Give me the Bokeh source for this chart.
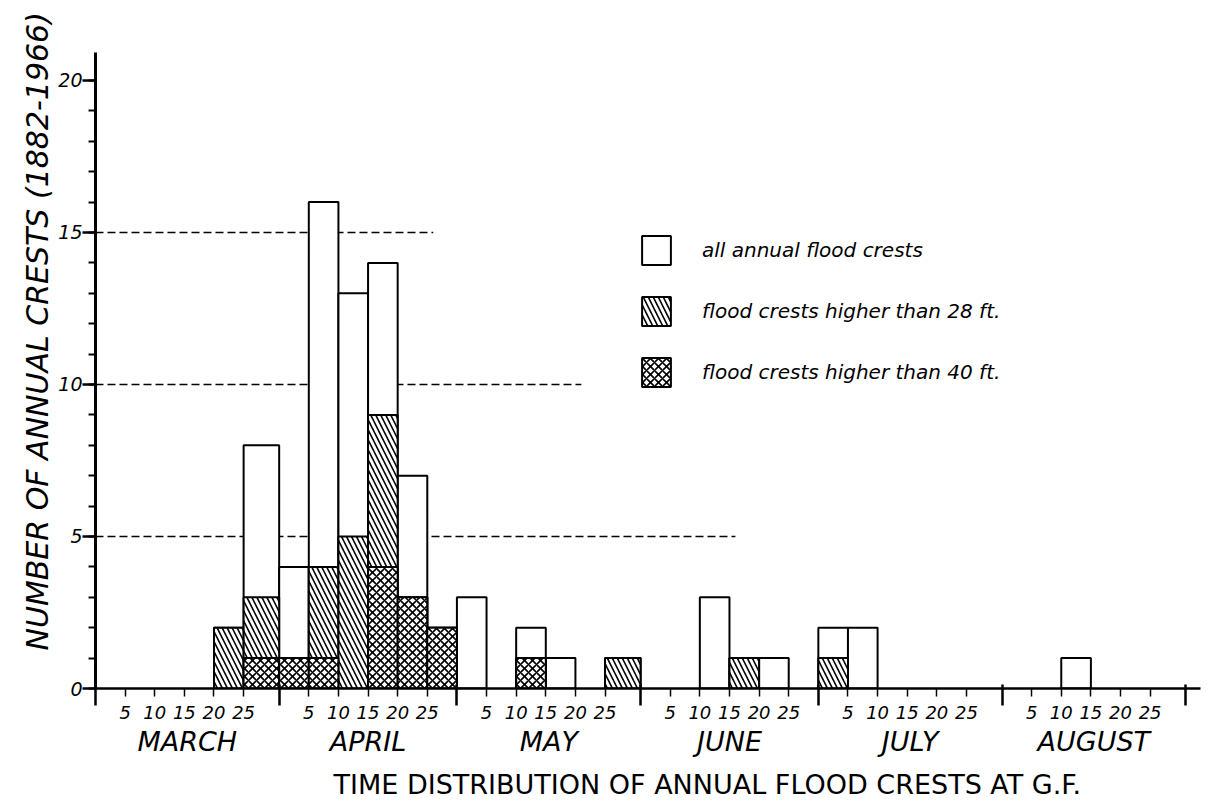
import numpy as np
from bokeh.plotting import figure
from bokeh.models import (ColumnDataSource, FixedTicker, LinearAxis, Range1d,
                          Legend, LegendItem, Title)
from bokeh.embed import file_html
from bokeh.resources import INLINE

# ---------------- data ----------------
months = ["MARCH", "APRIL", "MAY", "JUNE", "JULY", "AUGUST"]
month_days = [31, 30, 31, 30, 31, 31]
day_ticks = [5, 10, 15, 20, 25]

# each 5-day bin: month index, bin index within month (5 = 26..end)
bin_month = [0, 0, 1, 1, 1, 1, 1, 1, 2, 2, 2, 2, 3, 3, 3, 4, 4, 5]
bin_index = [4, 5, 0, 1, 2, 3, 4, 5, 0, 2, 3, 5, 2, 3, 4, 0, 1, 2]
all_crests = [2, 8, 4, 16, 13, 14, 7, 2, 3, 2, 1, 1, 3, 1, 1, 2, 2, 1]
above_28ft = [2, 3, 1, 4, 5, 9, 3, 2, 0, 1, 0, 1, 0, 1, 0, 1, 0, 0]
above_40ft = [0, 1, 1, 1, 0, 4, 3, 2, 0, 1, 0, 0, 0, 0, 0, 0, 0, 0]

guide_levels = [5, 10, 15]
guide_ends = [108, 82, 57]          # day (from March 1) where dashed guide stops

y_major = [0, 5, 10, 15, 20]

# ---------------- derived ----------------
month_start = np.concatenate([[0], np.cumsum(month_days)])
bm = np.array(bin_month)
bi = np.array(bin_index)
left = month_start[bm] + 5 * bi
right = np.where(bi < 5, left + 5, month_start[bm + 1])
a_all = np.array(all_crests, dtype=float)
a28 = np.array(above_28ft, dtype=float)
a40 = np.array(above_40ft, dtype=float)

src_all = ColumnDataSource(dict(left=left, right=right, top=a_all, bottom=np.zeros_like(a_all)))
m28 = a28 > 0
src_28 = ColumnDataSource(dict(left=left[m28], right=right[m28], top=a28[m28], bottom=np.zeros(m28.sum())))
m40 = a40 > 0
src_40 = ColumnDataSource(dict(left=left[m40], right=right[m40], top=a40[m40], bottom=np.zeros(m40.sum())))

FONT = "DejaVu Sans"

p = figure(width=1203, height=806, output_backend="svg", toolbar_location=None,
           x_range=Range1d(0, 186.5), y_range=Range1d(0, 20.92),
           min_border_left=95, min_border_right=3, min_border_top=52, min_border_bottom=118,
           x_axis_type=None, y_axis_type=None)
p.outline_line_color = None
p.xgrid.visible = False
p.ygrid.visible = False
p.background_fill_color = "white"
p.border_fill_color = "white"

# dashed guide lines
p.segment(x0=np.zeros(len(guide_levels)), y0=guide_levels, x1=guide_ends, y1=guide_levels,
          line_color="black", line_width=1.4, line_dash="8 4")

# bars
r_all = p.quad(left="left", right="right", top="top", bottom="bottom", source=src_all,
               fill_color="white", line_color="black", line_width=2)
r_28 = p.quad(left="left", right="right", top="top", bottom="bottom", source=src_28,
              fill_color="white", line_color="black", line_width=2,
              hatch_pattern="left_diagonal_line", hatch_color="black",
              hatch_scale=10, hatch_weight=1.6)
r_40 = p.quad(left="left", right="right", top="top", bottom="bottom", source=src_40,
              fill_color="white", line_color="black", line_width=2,
              hatch_pattern="diagonal_cross", hatch_color="black",
              hatch_scale=8, hatch_weight=1.6)

# y axis
yaxis = LinearAxis(ticker=FixedTicker(ticks=y_major, minor_ticks=list(range(0, 21))))
yaxis.axis_line_width = 3
yaxis.major_tick_out = 13
yaxis.major_tick_in = 0
yaxis.major_tick_line_width = 2.5
yaxis.minor_tick_out = 7
yaxis.minor_tick_in = 0
yaxis.minor_tick_line_width = 2
yaxis.major_label_text_font = FONT
yaxis.major_label_text_font_style = "italic"
yaxis.major_label_text_font_size = "19px"
yaxis.major_label_text_color = "black"
yaxis.major_label_standoff = 0
p.add_layout(yaxis, "left")

# x axis: 5-day ticks with labels, month boundaries as long minor ticks
tick_pos = []
overrides = {}
for s in month_start[:-1]:
    for d in day_ticks:
        tick_pos.append(float(s + d))
        overrides[float(s + d)] = str(d)
xaxis = LinearAxis(ticker=FixedTicker(ticks=tick_pos, minor_ticks=[float(v) for v in month_start]))
xaxis.major_label_overrides = overrides
xaxis.axis_line_width = 2.5
xaxis.major_tick_out = 8
xaxis.major_tick_in = 0
xaxis.major_tick_line_width = 1.5
xaxis.minor_tick_out = 17
xaxis.minor_tick_in = 4
xaxis.minor_tick_line_width = 2.5
xaxis.major_label_text_font = FONT
xaxis.major_label_text_font_style = "italic"
xaxis.major_label_text_font_size = "18px"
xaxis.major_label_text_color = "black"
xaxis.major_label_standoff = 0
p.add_layout(xaxis, "below")

# month names axis
centers = [float((month_start[i] + month_start[i + 1]) / 2) for i in range(len(months))]
maxis = LinearAxis(ticker=FixedTicker(ticks=centers, minor_ticks=[]))
maxis.major_label_overrides = {c: m for c, m in zip(centers, months)}
maxis.axis_line_color = None
maxis.major_tick_line_color = None
maxis.minor_tick_line_color = None
maxis.major_tick_out = 0
maxis.major_tick_in = 0
maxis.major_label_text_font = FONT
maxis.major_label_text_font_style = "italic"
maxis.major_label_text_font_size = "27px"
maxis.major_label_text_color = "black"
maxis.major_label_standoff = 4
p.add_layout(maxis, "below")

# bottom caption
p.add_layout(Title(text="TIME DISTRIBUTION OF ANNUAL FLOOD CRESTS AT G.F.", align="left",
                   offset=238, text_font=FONT, text_font_style="normal",
                   text_font_size="27px", text_color="black", standoff=14), "below")

# vertical axis title
p.add_layout(Title(text="NUMBER OF ANNUAL CRESTS (1882-1966)", align="left", offset=38,
                   text_font=FONT, text_font_style="italic", text_font_size="30px",
                   text_color="black", standoff=2), "left")

# legend
legend = Legend(items=[LegendItem(label="all annual flood crests", renderers=[r_all]),
                       LegendItem(label="flood crests higher than 28 ft.", renderers=[r_28]),
                       LegendItem(label="flood crests higher than 40 ft.", renderers=[r_40])],
                location=(543, 298), orientation="vertical",
                glyph_width=36, glyph_height=36, spacing=25, label_standoff=28,
                padding=0, margin=0, border_line_color=None, background_fill_alpha=0,
                label_text_font=FONT, label_text_font_style="italic",
                label_text_font_size="20px", label_text_color="black")
p.add_layout(legend, "center")

open("out.html", "w").write(file_html(p, INLINE))
